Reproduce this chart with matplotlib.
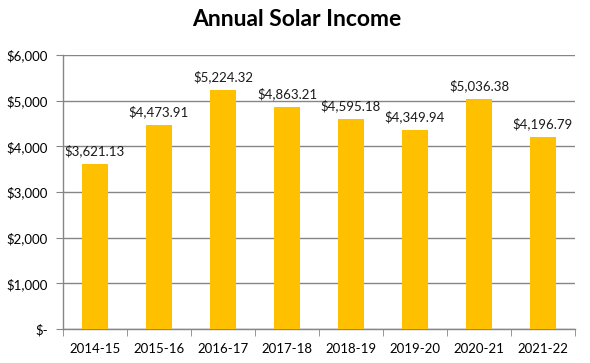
import matplotlib.pyplot as plt
from matplotlib.ticker import FuncFormatter, FixedLocator

# Datos
years = ['2014-15', '2015-16', '2016-17', '2017-18', '2018-19', '2019-20', '2020-21', '2021-22']
income = [3621.13, 4473.91, 5224.32, 4863.21, 4595.18, 4349.94, 5036.38, 4196.79]

plt.rcParams['font.family'] = ['Lato', 'DejaVu Sans']

fig = plt.figure(figsize=(5.9, 3.63), dpi=100)
ax = fig.add_axes([0.1068, 0.0937, 0.8678, 0.7548])

x = range(len(years))
bars = ax.bar(x, income, width=0.4, color='#FFC000', zorder=3)

for b, v in zip(bars, income):
    ax.annotate(f'${v:,.2f}', (b.get_x() + b.get_width() / 2, v),
                xytext=(0, 5), textcoords='offset points',
                ha='center', va='bottom', fontsize=9.5, color='#1a1a1a')

ax.set_xlim(-0.5, len(years) - 0.5)
ax.set_ylim(0, 6000)
ax.set_yticks(range(0, 6001, 1000))
ax.yaxis.set_major_formatter(FuncFormatter(lambda v, p: '$-' if v == 0 else f'${v:,.0f}'))
ax.set_xticks(list(x))
ax.set_xticklabels(years)
ax.xaxis.set_minor_locator(FixedLocator([i - 0.5 for i in range(len(years) + 1)]))
ax.tick_params(axis='x', which='major', length=0, pad=10, labelsize=9.5)
ax.tick_params(axis='x', which='minor', length=5, color='#868686')
ax.tick_params(axis='y', length=5, color='#868686', labelsize=9.5, pad=6)

ax.grid(axis='y', color='#868686', linewidth=1, zorder=0)
for s in ['top', 'right']:
    ax.spines[s].set_visible(False)
for s in ['left', 'bottom']:
    ax.spines[s].set_color('#868686')
    ax.spines[s].set_linewidth(1)

fig.suptitle('Annual Solar Income', x=0.503, y=0.975, fontsize=16.5, fontweight='bold')

fig.savefig('out.png', dpi=100)
